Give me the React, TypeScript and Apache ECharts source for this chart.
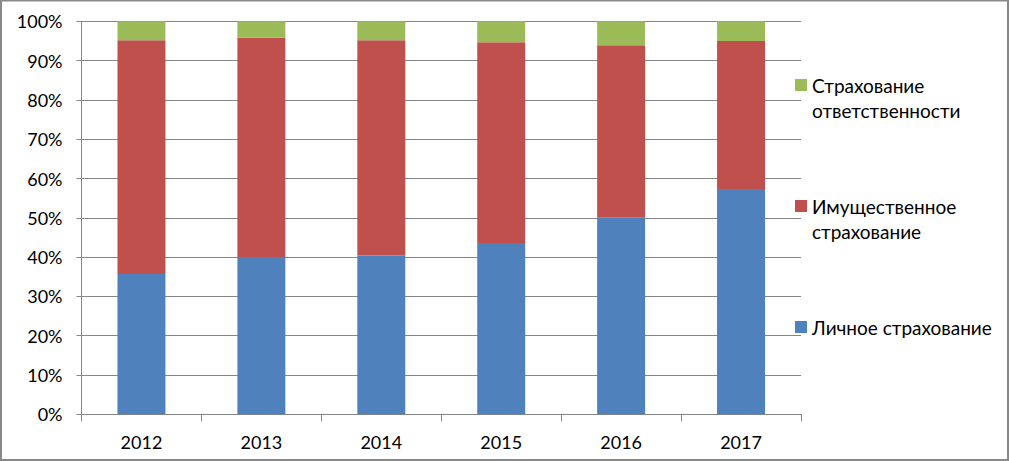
import React, { useEffect, useRef } from "react";
import * as echarts from "echarts";

const years = ["2012", "2013", "2014", "2015", "2016", "2017"];
const personal = [35.7, 39.9, 40.4, 43.6, 50.0, 57.3];
const property = [59.5, 55.9, 54.8, 51.1, 43.9, 37.7];
const liability = [4.8, 4.2, 4.8, 5.3, 6.1, 5.0];

const nameLiability = "Страхование ответственности";
const nameProperty = "Имущественное страхование";
const namePersonal = "Личное страхование";

const FONT = "Lato";
const LH = 25;

export default function App() {
  const ref = useRef<HTMLDivElement>(null);
  useEffect(() => {
    document.body.style.margin = "0";
    const chart = echarts.init(ref.current!, null, { renderer: "svg" });
    chart.setOption({
      animation: false,
      textStyle: { fontFamily: FONT },
      graphic: [
        {
          type: "rect",
          shape: { x: 1, y: 0.5, width: 1007, height: 459.5 },
          style: { fill: "none", stroke: "#898989", lineWidth: 2 },
          silent: true,
        },
      ],
      grid: { left: 81.5, right: 209, top: 21.3, bottom: 46.7 },
      legend: {
        orient: "vertical",
        left: 795,
        top: 47.5,
        padding: 0,
        itemWidth: 12,
        itemHeight: 12,
        itemGap: 46,
        icon: "rect",
        textStyle: { fontFamily: FONT, fontSize: 19, color: "#000", lineHeight: LH },
        formatter: (n: string) =>
          n === nameLiability
            ? " \nСтрахование\nответственности"
            : n === nameProperty
            ? " \nИмущественное\nстрахование"
            : " \n" + n + "\n ",
        data: [nameLiability, nameProperty, namePersonal],
      },
      xAxis: {
        type: "category",
        data: years,
        axisLine: { lineStyle: { color: "#868686", width: 1 } },
        axisTick: { show: true, length: 7, lineStyle: { color: "#868686" } },
        axisLabel: { color: "#000", fontSize: 18, fontFamily: FONT, margin: 19 },
      },
      yAxis: {
        type: "value",
        min: 0,
        max: 100,
        interval: 10,
        axisLine: { show: true, lineStyle: { color: "#868686", width: 1 } },
        axisTick: { show: true, length: 5, lineStyle: { color: "#868686" } },
        splitLine: { lineStyle: { color: "#868686", width: 1 } },
        axisLabel: { color: "#000", fontSize: 18, fontFamily: FONT, margin: 19, formatter: "{value}%" },
      },
      series: [
        { name: namePersonal, type: "bar", stack: "s", data: personal, barWidth: "40%", itemStyle: { color: "#4F81BD" } },
        { name: nameProperty, type: "bar", stack: "s", data: property, itemStyle: { color: "#C0504D" } },
        { name: nameLiability, type: "bar", stack: "s", data: liability, itemStyle: { color: "#9BBB59" } },
      ],
    });
    return () => chart.dispose();
  }, []);
  return <div ref={ref} style={{ width: 1010, height: 461 }} />;
}
